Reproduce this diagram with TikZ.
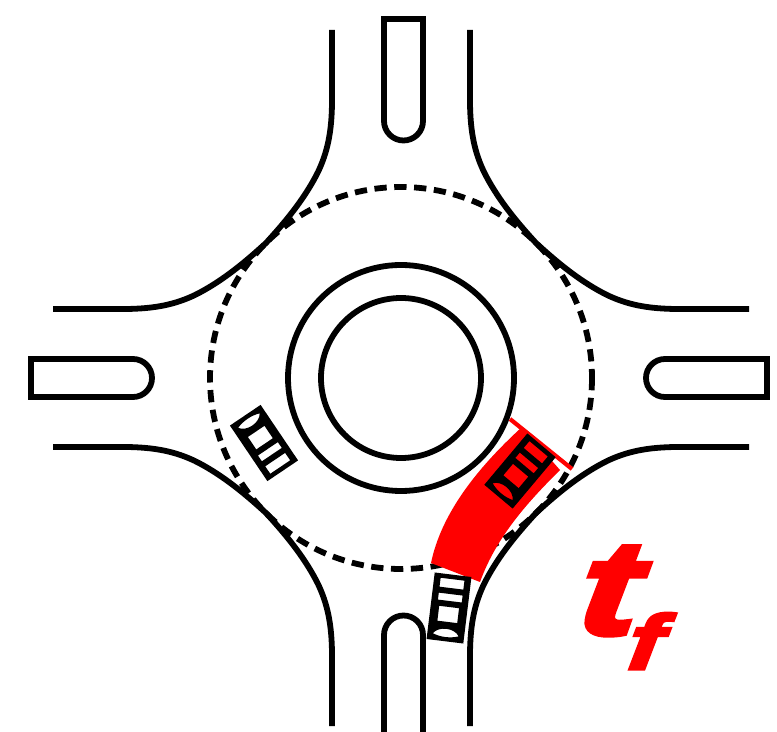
\documentclass[tikz,border=0pt]{standalone}
\usepackage{fontspec}
\newfontfamily\tffont[FakeBold=4,FakeStretch=1.35]{Liberation Sans}
\tikzset{
  road/.style={line width=3.3pt, black},
  ring/.style={line width=3.3pt, black, dash pattern=on 7pt off 4.3pt},
  pics/car/.style={code={
    \fill[black, even odd rule]
      (-33.5,-18.5) rectangle (33.5,18.5)
      (-14,-10) rectangle (1,10)
      (7,-12) rectangle (14,12)
      (20,-12) rectangle (29,12)
      (-27,-13) .. controls (-30,-5) and (-30,5) .. (-27,13)
      .. controls (-19,8) and (-19,-8) .. (-27,-13) -- cycle;
  }}
}
\begin{document}
\begin{tikzpicture}[x=0.02cm,y=-0.02cm]
\useasboundingbox (0,0) rectangle (777,732);

% Road edges
\foreach \a in {0,90,180,270} {
  \begin{scope}[shift={(401,378)}, rotate=\a]
    \draw[road] (-69,-348) -- (-69,-278)
      .. controls (-69,-245) and (-74,-225) .. (-83,-206)
      .. controls (-95,-182) and (-112,-160) .. (-135,-135)
      .. controls (-160,-112) and (-182,-95) .. (-206,-83)
      .. controls (-225,-74) and (-245,-69) .. (-278,-69) -- (-348,-69);
  \end{scope}
}

% Islands
\draw[road] (384,19) -- (423,19) -- (423,121) arc[start angle=0, end angle=180, radius=19.5] -- cycle;
\draw[road] (384,737) -- (423,737) -- (423,635) arc[start angle=0, end angle=-180, radius=19.5] -- cycle;
\draw[road] (31,359) -- (133,359) arc[start angle=-90, end angle=90, radius=19] -- (31,397) -- cycle;
\draw[road] (767,359) -- (665,359) arc[start angle=-90, end angle=-270, radius=19] -- (767,397) -- cycle;

% Central island
\draw[road] (401,378) circle[radius=113];
\draw[road] (401,378) circle[radius=80];

% Dashed circle
\draw[ring] (401,378) circle[radius=191];

% Red zone
\fill[red] (431,563) .. controls (441,515) and (475,470) .. (522,427)
  -- (560,470) .. controls (530,500) and (497,535) .. (480,582) -- cycle;
\draw[red, line width=2.4pt] (510,419) -- (572,469);

% Cars
\pic[rotate=83] at (449,608) {car};
\pic[rotate=-56] at (264,443) {car};
\pic[rotate=50] at (520,471) {car};

% Label
\node[red, inner sep=0pt, anchor=base west, xslant=0.12, transform shape] (tflabel) at (575,634)
  {\tffont\bfseries\itshape\fontsize{76}{76}\selectfont t\kern-3pt\raisebox{-20pt}{\fontsize{44}{44}\selectfont f}};

\end{tikzpicture}
\end{document}
